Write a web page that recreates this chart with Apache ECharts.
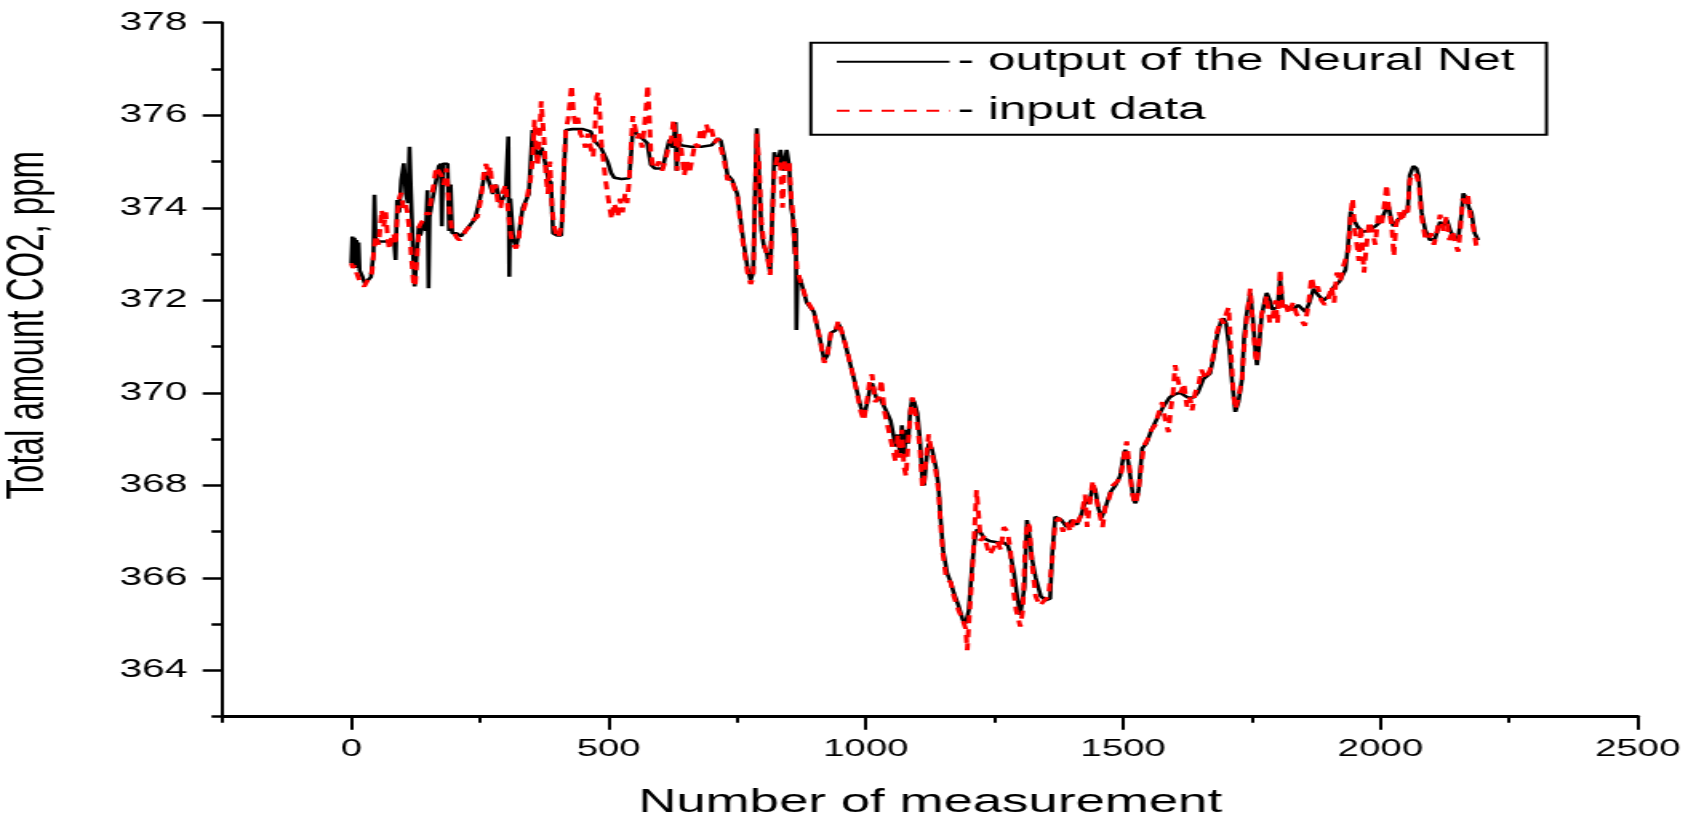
<!DOCTYPE html>
<html>
<head>
<meta charset="utf-8">
<script src="https://cdn.jsdelivr.net/npm/echarts@6/dist/echarts.min.js"></script>
<style>
html,body{margin:0;padding:0;background:#fff;overflow:hidden}
#wrap{width:1695px;height:817px;overflow:hidden;background:#fff}
#chart{width:1059.375px;height:817px;transform:scaleX(1.6);transform-origin:0 0}
</style>
</head>
<body>
<div id="wrap"><div id="chart"></div></div>
<script>
// ---- data ----
const seriesNames = ['- output of the Neural Net', '- input data'];
const xAxisTitle = 'Number of measurement';
const yAxisTitle = 'Total amount CO2, ppm';
const xMajorTicks = [0, 500, 1000, 1500, 2000, 2500];
const xMinorTicks = [-250, 250, 750, 1250, 1750, 2250];
const yMajorTicks = [364, 366, 368, 370, 372, 374, 376, 378];
const yMinorTicks = [363, 365, 367, 369, 371, 373, 375, 377];

// output of the Neural Net (black)
const outX = [0,2,4,6,8,10,12,14,16,22,26,32,38,43,45,47,55,75,83,86,89,93,97,102,106,110,113,116,120,123,127,131,134,140,145,148,150,152,158,165,170,174,176,178,187,190,193,196,204,213,225,240,250,260,265,275,281,290,300,305,307,309,315,320,325,333,345,352,356,362,370,378,383,388,392,400,408,412,417,430,450,465,472,485,498,505,511,525,540,544,547,555,565,575,582,590,605,612,618,625,630,632,635,640,660,680,700,712,718,725,731,740,750,757,763,770,776,781,785,788,792,797,802,808,814,818,822,828,834,840,846,851,855,858,862,864,865,867,873,885,899,910,919,925,932,941,946,951,960,977,990,996,1003,1008,1012,1020,1029,1040,1048,1055,1058,1062,1066,1070,1074,1078,1082,1086,1090,1094,1100,1105,1110,1113,1118,1122,1128,1136,1141,1145,1150,1158,1165,1171,1180,1188,1194,1200,1206,1211,1216,1223,1230,1240,1255,1268,1276,1281,1288,1294,1300,1304,1308,1313,1318,1323,1330,1340,1350,1358,1362,1368,1380,1390,1400,1410,1418,1427,1434,1441,1446,1452,1458,1465,1475,1485,1494,1500,1504,1510,1515,1520,1524,1530,1537,1545,1555,1566,1578,1590,1600,1611,1625,1637,1645,1656,1669,1676,1682,1690,1695,1700,1706,1712,1718,1724,1731,1735,1740,1747,1752,1757,1760,1764,1769,1775,1779,1785,1790,1800,1805,1810,1820,1830,1840,1854,1862,1870,1880,1890,1900,1910,1920,1932,1937,1942,1948,1955,1965,1975,1990,2000,2010,2015,2020,2025,2035,2045,2053,2057,2064,2070,2074,2080,2087,2096,2106,2116,2122,2129,2136,2142,2151,2158,2161,2167,2172,2177,2183,2190];
const outY = [372.8,373.38,372.7,373.35,372.75,373.3,372.7,373.25,372.65,372.5,372.37,372.4,372.5,373.0,374.28,373.3,373.27,373.27,373.3,372.87,374.17,373.9,374.6,374.96,374.3,374.1,375.32,374.3,373.0,372.3,373.0,373.6,373.4,373.7,373.5,374.38,372.26,373.8,374.2,374.6,374.9,374.95,373.6,374.95,374.95,373.5,374.5,373.45,373.45,373.38,373.55,373.75,374.2,374.77,374.65,374.3,374.5,374.1,374.3,375.54,372.51,374.2,373.3,373.16,373.4,374.0,374.3,375.68,375.3,375.1,375.3,374.9,374.6,374.55,373.45,373.4,373.4,374.5,375.68,375.7,375.7,375.65,375.45,375.3,375.0,374.75,374.65,374.62,374.64,375.2,375.68,375.6,375.5,375.4,374.93,374.85,374.85,375.2,375.47,375.3,375.85,374.8,375.5,375.35,375.32,375.32,375.35,375.5,375.45,375.1,374.71,374.6,374.3,373.7,373.2,372.7,372.44,372.6,374.5,375.72,374.8,373.5,373.16,373.0,372.58,373.8,375.2,374.9,375.25,374.8,375.25,374.9,374.0,373.8,373.0,373.56,371.36,372.5,372.44,371.95,371.75,371.2,370.71,370.8,371.3,371.35,371.5,371.4,371.05,370.3,369.7,369.49,369.8,370.1,370.21,369.9,369.85,369.6,369.4,369.0,368.84,369.1,368.7,369.3,368.6,369.2,368.9,369.6,369.88,369.8,369.56,369.0,368.1,368.0,368.6,368.9,368.8,368.4,368.0,367.3,366.6,366.1,365.9,365.67,365.4,365.1,365.02,365.3,366.2,366.8,367.05,366.98,366.85,366.8,366.77,366.76,366.7,366.5,366.1,365.6,365.2,365.16,365.8,367.25,366.9,366.4,366.0,365.6,365.52,365.55,366.5,367.32,367.25,367.1,367.25,367.15,367.35,367.68,367.6,368.0,367.9,367.5,367.3,367.5,367.85,368.0,368.2,368.6,368.77,368.5,368.1,367.7,367.61,367.9,368.8,368.9,369.2,369.45,369.7,369.9,369.97,370.0,369.9,369.9,370.0,370.3,370.42,370.8,371.2,371.55,371.61,371.5,371.0,370.2,369.59,369.8,370.3,371.2,371.7,372.16,371.6,370.9,370.6,371.0,371.65,372.0,372.16,372.0,371.8,371.85,372.45,371.9,371.85,371.8,371.9,371.75,371.95,372.25,372.1,372.0,372.1,372.3,372.4,372.66,373.2,373.92,373.75,373.6,373.48,373.5,373.6,373.7,373.95,374.06,373.8,373.6,373.75,373.85,373.95,374.7,374.9,374.85,374.7,373.9,373.52,373.3,373.33,373.7,373.6,373.74,373.5,373.37,373.33,373.9,374.31,374.2,374.0,373.9,373.45,373.3];

// input data (red dashed)
const inX = [0,3,6,10,15,20,25,30,36,40,44,48,53,59,63,67,71,74,78,82,86,89,93,97,101,105,109,113,117,121,124,128,132,137,142,147,151,155,160,165,170,175,180,185,190,195,200,205,210,215,222,230,238,245,252,258,262,266,270,275,280,285,290,295,300,305,310,315,320,325,330,336,342,348,352,356,359,362,366,369,372,375,378,382,386,390,394,398,402,406,410,413,417,421,425,428,432,436,440,445,450,455,460,465,470,474,477,480,483,486,490,494,498,502,506,510,514,518,522,527,532,536,540,544,547,552,556,560,565,570,573,576,579,582,586,592,598,604,610,616,622,626,630,633,637,642,647,652,657,663,668,673,678,684,690,695,700,706,712,718,725,731,738,745,750,757,763,770,776,781,785,788,792,797,802,808,814,818,822,828,834,838,842,846,851,855,858,862,866,873,885,899,910,919,925,932,941,946,951,960,977,990,996,1003,1008,1012,1018,1025,1030,1036,1042,1050,1058,1062,1066,1070,1074,1078,1082,1086,1090,1094,1100,1105,1110,1113,1118,1122,1128,1136,1141,1145,1150,1156,1165,1171,1180,1188,1194,1197,1200,1206,1211,1215,1218,1223,1230,1240,1246,1255,1262,1268,1275,1281,1286,1292,1300,1305,1310,1314,1318,1323,1330,1338,1346,1355,1362,1368,1375,1383,1390,1398,1405,1412,1420,1426,1430,1436,1441,1446,1452,1460,1466,1472,1480,1490,1497,1504,1507,1512,1518,1524,1530,1535,1540,1548,1555,1562,1570,1576,1582,1588,1592,1597,1601,1606,1612,1618,1624,1630,1634,1640,1647,1652,1660,1669,1675,1682,1690,1695,1700,1705,1709,1714,1718,1724,1731,1735,1740,1747,1752,1757,1760,1764,1769,1775,1779,1785,1790,1796,1800,1805,1810,1816,1822,1830,1837,1845,1853,1860,1866,1872,1878,1885,1892,1898,1905,1910,1915,1922,1928,1934,1938,1942,1946,1950,1953,1958,1962,1968,1973,1978,1984,1990,1996,2002,2008,2012,2016,2022,2026,2030,2036,2042,2048,2053,2057,2064,2070,2075,2080,2087,2093,2098,2104,2110,2116,2122,2128,2134,2140,2146,2151,2155,2160,2165,2170,2175,2180,2186,2190];
const inY = [372.8,372.7,372.75,372.6,372.45,372.35,372.3,372.4,372.5,372.6,373.1,373.4,373.2,373.95,373.6,373.9,373.3,373.1,373.35,373.45,373.2,373.8,374.2,374.32,374.0,374.1,373.9,373.5,372.9,372.35,372.3,373.0,373.6,373.7,373.75,373.9,373.85,374.2,374.5,374.88,374.9,374.7,374.5,374.85,374.0,373.55,373.45,373.35,373.3,373.35,373.5,373.6,373.75,373.8,374.2,374.8,374.95,374.7,374.9,374.3,374.5,374.1,374.0,374.35,374.5,373.9,373.4,373.2,373.12,373.3,373.8,374.0,374.25,374.6,375.0,375.9,375.3,374.9,375.6,376.3,376.26,375.4,374.7,374.3,375.0,374.0,373.6,373.45,373.35,373.5,373.7,374.8,375.7,375.9,376.3,376.65,376.0,375.8,375.95,375.6,375.5,375.3,375.6,375.3,375.1,375.8,376.4,376.5,376.0,375.4,375.0,374.6,374.3,374.0,373.75,374.1,374.0,373.8,374.2,373.9,374.3,374.1,374.6,375.4,375.98,375.7,375.5,375.6,375.3,375.8,376.2,376.65,376.0,375.2,374.9,374.85,375.0,374.8,375.0,375.3,375.5,375.9,375.5,374.8,375.6,375.2,374.7,375.0,374.75,375.1,375.4,375.3,375.65,375.5,375.8,375.6,375.7,375.4,375.5,375.3,375.0,374.6,374.65,374.4,374.3,373.6,373.1,372.6,372.35,372.5,374.3,375.6,375.0,373.7,373.2,373.0,372.55,373.8,374.8,375.1,374.9,374.0,375.0,374.8,375.0,374.2,373.9,373.2,372.7,372.4,372.0,371.75,371.2,370.65,370.8,371.3,371.3,371.55,371.4,371.05,370.3,369.6,369.4,369.9,370.3,370.4,369.8,369.9,370.28,369.6,369.3,368.9,368.5,369.1,368.6,369.2,368.4,368.2,368.9,369.5,369.9,369.7,369.3,368.8,367.95,368.1,368.7,369.1,368.7,368.3,367.9,367.2,366.5,366.0,365.9,365.6,365.3,365.1,364.9,364.44,365.0,366.0,367.0,367.9,367.5,366.8,366.9,366.5,366.6,366.8,366.6,367.1,367.0,366.6,365.8,365.3,364.95,365.3,366.8,367.2,367.1,366.3,365.6,365.4,365.5,365.6,366.4,367.2,367.3,367.0,367.2,367.0,367.3,367.2,367.4,367.8,367.1,367.7,368.1,367.8,367.5,367.1,367.6,367.7,368.0,368.1,368.3,368.8,368.95,368.4,367.8,367.6,367.9,368.4,368.85,369.0,369.2,369.3,369.6,369.8,369.4,369.15,369.6,370.0,370.6,370.3,370.0,370.2,369.7,369.9,369.62,370.0,370.2,370.5,370.3,370.5,370.8,371.3,371.6,371.5,371.7,371.85,371.0,370.0,369.65,369.9,370.3,371.0,371.6,372.25,371.5,370.8,370.65,371.1,371.7,371.9,372.1,371.5,371.6,372.0,371.5,372.67,371.8,371.9,371.7,371.95,371.7,371.6,371.45,371.9,372.5,372.2,372.3,372.0,371.9,372.0,372.3,371.95,372.6,372.4,372.74,372.7,373.1,373.85,374.2,373.5,373.3,372.85,373.6,372.6,373.2,373.7,373.5,373.2,373.9,373.6,374.1,374.5,374.0,373.6,372.95,373.6,373.9,373.7,374.0,373.9,374.6,374.75,374.7,374.5,373.8,373.35,373.3,373.45,373.2,373.5,373.85,373.5,373.8,373.3,373.5,373.2,373.05,373.5,374.2,374.1,374.25,373.8,373.6,373.2,373.1];

// ---- chart ----
const outData = outX.map((x, i) => [x, outY[i]]);
const inData = inX.map((x, i) => [x, inY[i]]);
const FONT = 'Liberation Sans, Arial, sans-serif';

const chart = echarts.init(document.getElementById('chart'), null, {renderer: 'canvas'});
chart.setOption({
  animation: false,
  backgroundColor: '#ffffff',
  textStyle: {fontFamily: FONT, color: '#000'},
  grid: {left: 139.2, right: 35.4, top: 22.7, bottom: 100.3, containLabel: false, outerBoundsMode: 'none'},
  legend: {
    orient: 'vertical',
    left: 506.8,
    top: 42.7,
    padding: [3, 20, 8, 15.2],
    itemWidth: 70.5,
    itemHeight: 14,
    itemGap: 17,
    borderColor: '#000',
    borderWidth: 2,
    backgroundColor: '#fff',
    itemStyle: {color: 'rgba(0,0,0,0)', borderColor: 'rgba(0,0,0,0)', borderWidth: 0, opacity: 0},
    lineStyle: {width: 2},
    textStyle: {fontSize: 31, lineHeight: 32, color: '#000', fontFamily: FONT},
    data: seriesNames,
    selectedMode: false
  },
  xAxis: [
    {
      type: 'value', min: -250, max: 2500, position: 'bottom',
      axisLine: {show: true, onZero: false, lineStyle: {color: '#000', width: 3}},
      axisTick: {show: true, customValues: xMajorTicks, length: 13, lineStyle: {color: '#000', width: 2}},
      axisLabel: {customValues: xMajorTicks, margin: 21, fontSize: 24, color: '#000', fontFamily: FONT,
                  formatter: v => String(v)},
      splitLine: {show: false},
      name: xAxisTitle, nameLocation: 'middle', nameGap: 70,
      nameTextStyle: {fontSize: 33, color: '#000', fontFamily: FONT}
    },
    {
      type: 'value', min: -250, max: 2500, position: 'bottom',
      axisLine: {show: false, onZero: false},
      axisTick: {show: true, customValues: xMinorTicks, length: 6, lineStyle: {color: '#000', width: 2}},
      axisLabel: {show: false},
      splitLine: {show: false}
    }
  ],
  yAxis: [
    {
      type: 'value', min: 363, max: 378, position: 'left',
      axisLine: {show: true, onZero: false, lineStyle: {color: '#000', width: 2}},
      axisTick: {show: true, customValues: yMajorTicks, length: 12.5, lineStyle: {color: '#000', width: 2.5}},
      axisLabel: {customValues: yMajorTicks, margin: 22, fontSize: 25.5, color: '#000', fontFamily: FONT},
      splitLine: {show: false},
      name: yAxisTitle, nameLocation: 'middle', nameGap: 105, nameRotate: 90,
      nameTextStyle: {fontSize: 33, color: '#000', fontFamily: FONT, padding: [0, 0, 0, 89]}
    },
    {
      type: 'value', min: 363, max: 378, position: 'left',
      axisLine: {show: false, onZero: false},
      axisTick: {show: true, customValues: yMinorTicks, length: 7, lineStyle: {color: '#000', width: 2.5}},
      axisLabel: {show: false},
      splitLine: {show: false}
    }
  ],
  series: [
    {
      name: seriesNames[0], type: 'line', data: outData,
      xAxisIndex: 0, yAxisIndex: 0,
      symbol: 'none', showSymbol: false, silent: true, z: 2,
      lineStyle: {color: '#000000', width: 2.6},
      itemStyle: {color: '#000000'}
    },
    {
      name: seriesNames[1], type: 'line', data: inData,
      xAxisIndex: 0, yAxisIndex: 0,
      symbol: 'none', showSymbol: false, silent: true, z: 3,
      lineStyle: {color: '#ff0000', width: 3, type: [8, 6]},
      itemStyle: {color: '#ff0000'}
    }
  ]
});
</script>
</body>
</html>
